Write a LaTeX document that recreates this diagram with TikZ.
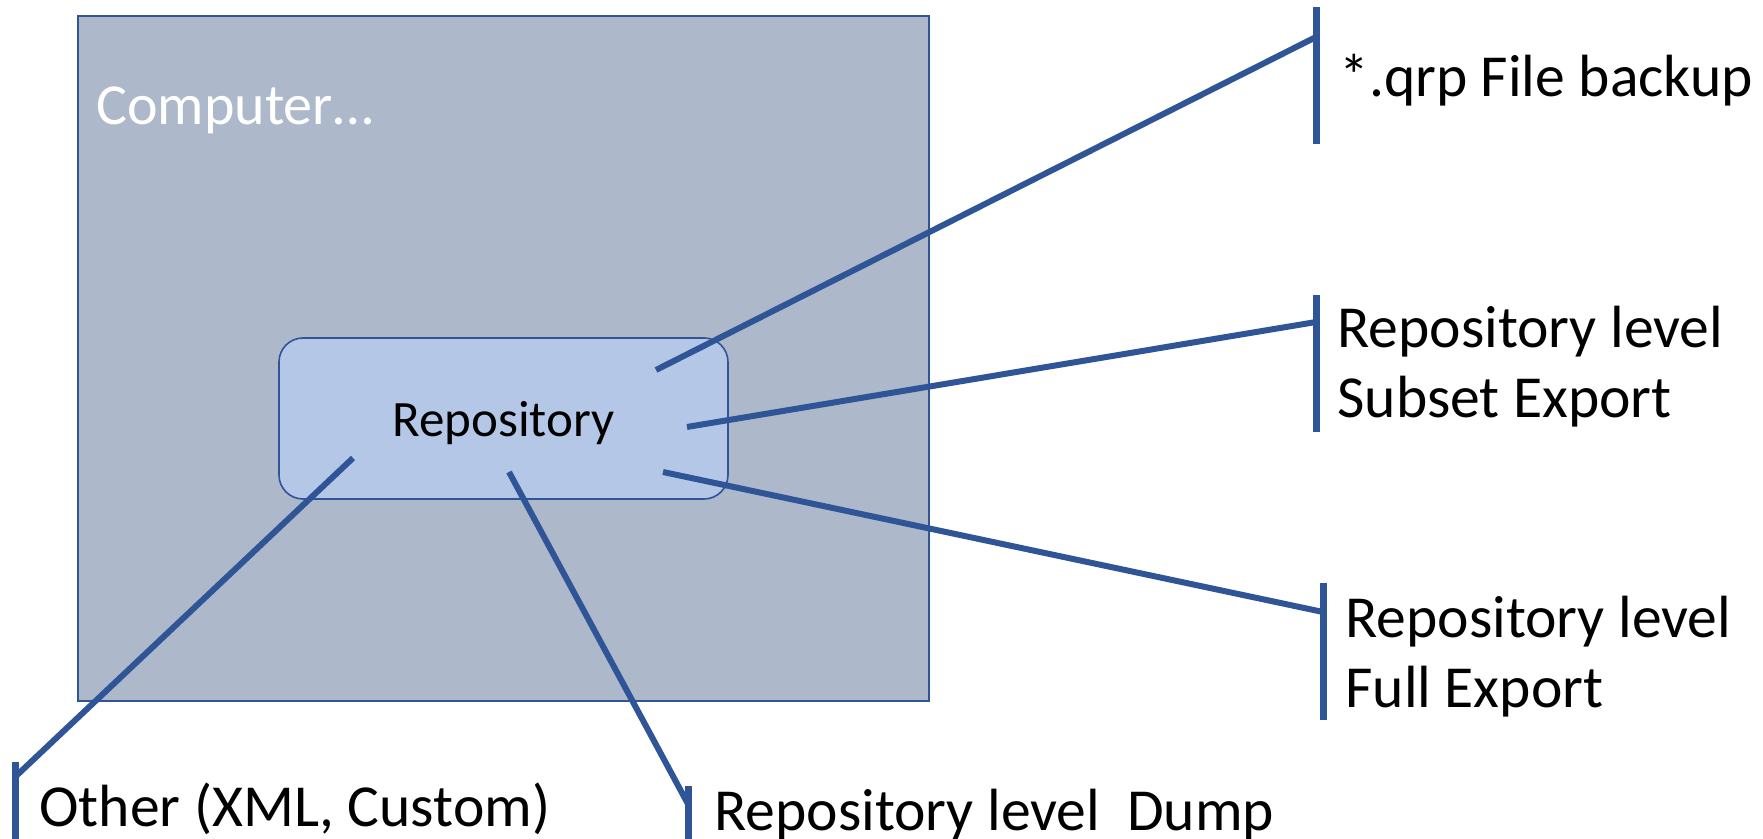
\documentclass[tikz,border=0pt]{standalone}
\usepackage{fontspec}
\setmainfont{Carlito}
\usepackage{tikz}
\usetikzlibrary{positioning}

\definecolor{linkblue}{HTML}{2F5597}
\definecolor{compfill}{HTML}{ADB9CA}
\definecolor{repofill}{HTML}{B4C7E7}

\tikzset{
  lbl/.style={anchor=base west, inner sep=0pt, align=left, font=\fontsize{29.8}{35}\selectfont},
  link/.style={draw=linkblue, line width=3pt},
  bracket/.style={draw=linkblue, line width=3.5pt},
}

\begin{document}
\begin{tikzpicture}[x=0.5pt,y=-0.5pt]
%	\draw [help lines] (0,0) grid (1763,839);
	\useasboundingbox (0,0) rectangle (1763,839);
	\node [draw=linkblue, line width=1pt, fill=compfill, inner sep=0pt, minimum width=425.5pt, minimum height=342.5pt] (comp) at (503.5,358.5) {};
	\node [anchor=base west, inner sep=0pt, text=white, font=\fontsize{29}{34}\selectfont] (comptxt) at (96,125) {Computer…};
	\node [draw=linkblue, line width=0.8pt, fill=repofill, rounded corners=12pt, minimum width=224.5pt, minimum height=80.5pt, text depth=0pt, font=\fontsize{25.5}{30}\selectfont] (repo) at (503.5,418.5) {Repository};

	\node [lbl] (qrp) at (1339,97) {*.qrp File backup};
	% base of a two-line node is its last line
	\node [lbl] (subset) at (1337,418) {Repository level\\Subset Export};
	\node [lbl] (full) at (1345,707) {Repository level\\Full Export};
	\node [lbl] (other) at (39,826) {Other (XML, Custom)};
	\node [lbl] (dump) at (714,830) {Repository level\ \ Dump};

	\draw [bracket] (1316,7) -- (1316,144);
	\draw [bracket] (1316,295) -- (1316,432);
	\draw [bracket] (1323,583) -- (1323,720);
	\draw [bracket] (15,762) -- (15,839);
	\draw [bracket] (688,786) -- (688,839);

	\coordinate (s1) at (656,370);  \coordinate (j1) at (1316,37);
	\coordinate (s2) at (687,427);  \coordinate (j2) at (1316,322);
	\coordinate (s3) at (663,472);  \coordinate (j3) at (1323,612);
	\coordinate (s4) at (353,458);  \coordinate (j4) at (15,777);
	\coordinate (s5) at (509,472);  \coordinate (j5) at (688,804);
	\draw [link] (s1) -- (j1);
	\draw [link] (s2) -- (j2);
	\draw [link] (s3) -- (j3);
	\draw [link] (s4) -- (j4);
	\draw [link] (s5) -- (j5);
\end{tikzpicture}
\end{document}
